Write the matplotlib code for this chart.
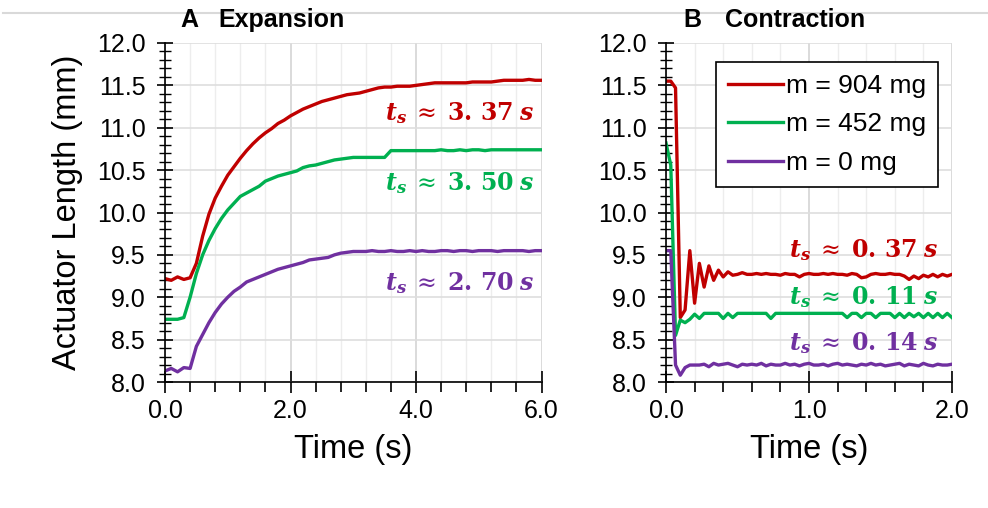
import numpy as np
import matplotlib
matplotlib.use("Agg")
import matplotlib.pyplot as plt
from matplotlib.ticker import MultipleLocator, FormatStrFormatter
from matplotlib.lines import Line2D

plt.rcParams['font.family'] = ['Liberation Sans', 'DejaVu Sans']
plt.rcParams['mathtext.fontset'] = 'dejavuserif'

# ---------------- data ----------------
labels = ["m = 904 mg", "m = 452 mg", "m = 0 mg"]
colors = ["#C00000", "#00B050", "#7030A0"]
ts_expansion = ["3.37", "3.50", "2.70"]
ts_contraction = ["0.37", "0.11", "0.14"]

# Expansion (time step 0.1 s, 0 .. 6 s)
t_exp = np.round(np.arange(0, 6.0001, 0.1), 2)
exp_904 = [9.22, 9.20, 9.24, 9.21, 9.23, 9.40, 9.72, 9.98, 10.17, 10.31,
           10.44, 10.54, 10.64, 10.73, 10.81, 10.88, 10.94, 10.99, 11.05, 11.09,
           11.14, 11.18, 11.22, 11.25, 11.28, 11.31, 11.33, 11.35, 11.37, 11.39,
           11.40, 11.41, 11.43, 11.45, 11.47, 11.48, 11.48, 11.49, 11.49, 11.49,
           11.50, 11.51, 11.52, 11.53, 11.53, 11.53, 11.53, 11.53, 11.53, 11.54,
           11.54, 11.54, 11.54, 11.55, 11.56, 11.56, 11.56, 11.56, 11.57, 11.56,
           11.56]
exp_452 = [8.74, 8.74, 8.74, 8.76, 9.00, 9.28, 9.50, 9.67, 9.81, 9.93,
           10.03, 10.11, 10.19, 10.23, 10.27, 10.31, 10.37, 10.40, 10.43, 10.45,
           10.47, 10.49, 10.53, 10.55, 10.56, 10.58, 10.60, 10.62, 10.63, 10.64,
           10.65, 10.65, 10.65, 10.65, 10.65, 10.65, 10.73, 10.73, 10.73, 10.73,
           10.73, 10.73, 10.73, 10.73, 10.74, 10.73, 10.73, 10.74, 10.73, 10.74,
           10.74, 10.73, 10.74, 10.74, 10.74, 10.74, 10.74, 10.74, 10.74, 10.74,
           10.74]
exp_0 = [8.13, 8.16, 8.12, 8.17, 8.16, 8.42, 8.56, 8.70, 8.82, 8.92,
         9.00, 9.07, 9.12, 9.18, 9.21, 9.24, 9.27, 9.30, 9.33, 9.35,
         9.37, 9.39, 9.41, 9.44, 9.45, 9.46, 9.47, 9.50, 9.52, 9.53,
         9.54, 9.54, 9.54, 9.55, 9.54, 9.54, 9.55, 9.54, 9.54, 9.55,
         9.54, 9.55, 9.54, 9.54, 9.55, 9.55, 9.54, 9.55, 9.55, 9.54,
         9.55, 9.55, 9.55, 9.54, 9.55, 9.55, 9.55, 9.55, 9.54, 9.55,
         9.55]

# Contraction (time step 1/30 s, 0 .. 2 s)
t_con = np.linspace(0, 2.0, 61)
con_904 = [11.55, 11.55, 11.47, 8.76, 8.85, 9.55, 8.93, 9.40, 9.12, 9.37,
           9.20, 9.32, 9.24, 9.30, 9.26, 9.27, 9.29, 9.27, 9.27, 9.28,
           9.27, 9.28, 9.27, 9.27, 9.26, 9.28, 9.27, 9.27, 9.24, 9.27,
           9.28, 9.27, 9.27, 9.28, 9.27, 9.28, 9.27, 9.27, 9.26, 9.28,
           9.27, 9.23, 9.24, 9.27, 9.28, 9.27, 9.27, 9.28, 9.27, 9.27,
           9.25, 9.21, 9.25, 9.22, 9.26, 9.24, 9.27, 9.24, 9.27, 9.25,
           9.27]
con_452 = [10.82, 10.56, 8.55, 8.73, 8.70, 8.74, 8.80, 8.75, 8.81, 8.81,
           8.81, 8.81, 8.75, 8.81, 8.76, 8.81, 8.81, 8.81, 8.81, 8.81,
           8.81, 8.81, 8.75, 8.81, 8.81, 8.81, 8.81, 8.81, 8.81, 8.81,
           8.81, 8.81, 8.81, 8.81, 8.81, 8.81, 8.81, 8.81, 8.76, 8.81,
           8.81, 8.76, 8.81, 8.81, 8.76, 8.81, 8.81, 8.81, 8.76, 8.81,
           8.76, 8.81, 8.77, 8.81, 8.76, 8.81, 8.76, 8.81, 8.76, 8.81,
           8.76]
con_0 = [9.55, 9.55, 8.20, 8.08, 8.17, 8.20, 8.20, 8.20, 8.21, 8.18,
         8.22, 8.20, 8.21, 8.22, 8.20, 8.18, 8.21, 8.20, 8.21, 8.20,
         8.22, 8.19, 8.21, 8.20, 8.20, 8.22, 8.20, 8.21, 8.19, 8.21,
         8.22, 8.20, 8.20, 8.21, 8.19, 8.21, 8.22, 8.20, 8.21, 8.20,
         8.19, 8.21, 8.20, 8.22, 8.20, 8.21, 8.19, 8.20, 8.21, 8.22,
         8.19, 8.21, 8.20, 8.19, 8.22, 8.20, 8.19, 8.21, 8.20, 8.20,
         8.21]

# ---------------- figure ----------------
W, H = 988, 508
fig = plt.figure(figsize=(W / 100, H / 100), dpi=100)

def fx(px):
    return px / W

def fy(py):
    return 1 - py / H

axA = fig.add_axes([fx(165), fy(382), fx(541.5) - fx(165), fy(43) - fy(382)])
axB = fig.add_axes([fx(666), fy(382), fx(952) - fx(666), fy(43) - fy(382)])


def style(ax, xmax, xmajor, xminor):
    ax.set_xlim(0, xmax)
    ax.set_ylim(8.0, 12.0)
    ax.xaxis.set_major_locator(MultipleLocator(xmajor))
    ax.xaxis.set_minor_locator(MultipleLocator(xminor))
    ax.yaxis.set_major_locator(MultipleLocator(0.5))
    ax.yaxis.set_minor_locator(MultipleLocator(0.1))
    ax.xaxis.set_major_formatter(FormatStrFormatter('%.1f'))
    ax.yaxis.set_major_formatter(FormatStrFormatter('%.1f'))
    for s in ['top', 'right']:
        ax.spines[s].set_visible(False)
    for s in ['left', 'bottom']:
        ax.spines[s].set_color('black')
        ax.spines[s].set_linewidth(1.2)
    ax.tick_params(axis='x', which='major', direction='inout', length=16, width=1.2,
                   labelsize=18, pad=4, color='black')
    ax.tick_params(axis='x', which='minor', direction='out', length=7, width=1.2, color='black')
    ax.tick_params(axis='y', which='major', direction='inout', length=12, width=1.2,
                   labelsize=18, pad=8, color='black')
    ax.tick_params(axis='y', which='minor', direction='inout', length=8, width=1.0, color='black')
    ax.grid(True, axis='x', which='major', color='#d4d4d4', linewidth=1.2)
    ax.grid(True, axis='x', which='minor', color='#ededed', linewidth=1.0)
    ax.grid(True, axis='y', which='major', color='#dedede', linewidth=1.2)
    ax.set_axisbelow(True)
    ax.set_xlabel('Time (s)', fontsize=23.5, labelpad=8)


style(axA, 6.0, 2.0, 0.4)
style(axB, 2.0, 1.0, 0.2)

for y, c in zip([exp_904, exp_452, exp_0], colors):
    axA.plot(t_exp, y, color=c, linewidth=2.4, solid_joinstyle='round')
handles = []
for y, c, lab in zip([con_904, con_452, con_0], colors, labels):
    h, = axB.plot(t_con, y, color=c, linewidth=2.4, label=lab, solid_joinstyle='round')
    handles.append(h)

axA.set_ylabel('Actuator Length (mm)', fontsize=23.5, labelpad=10)


def ts_text(ax, x, y, val, color):
    a, b = val.split('.')
    s = (r'$\mathbfit{t}_{\mathbfit{s}}\;\approx\;\mathbf{' + a + r'.\,' + b +
         r'}\;\mathbfit{s}$')
    ax.text(x, y, s, color=color, fontsize=17, ha='right', va='center')


for val, c, yy in zip(ts_expansion, colors, [11.17, 10.35, 9.17]):
    ts_text(axA, 5.88, yy, val, c)
for val, c, yy in zip(ts_contraction, colors, [9.56, 9.00, 8.46]):
    ts_text(axB, 1.90, yy, val, c)

leg = axB.legend(handles=handles, loc='upper left',
                 bbox_to_anchor=(fx(716), fy(62)), bbox_transform=fig.transFigure,
                 borderaxespad=0, fontsize=19, handlelength=2.1, handletextpad=0.1,
                 labelspacing=0.55, borderpad=0.45, fancybox=False, framealpha=1,
                 edgecolor='black')
leg.get_frame().set_linewidth(1.2)

# titles
fig.text(fx(180), fy(20), 'A', fontsize=18, fontweight='bold', va='center', ha='left')
fig.text(fx(218), fy(20), 'Expansion', fontsize=18, fontweight='bold', va='center', ha='left')
fig.text(fx(683), fy(20), 'B', fontsize=18, fontweight='bold', va='center', ha='left')
fig.text(fx(725), fy(20), 'Contraction', fontsize=18, fontweight='bold', va='center', ha='left')

# thin top rule
fig.add_artist(Line2D([fx(3), 1.0], [fy(13), fy(13)], color='#d9d9d9', linewidth=1.5,
                      transform=fig.transFigure))

fig.savefig('out.png', dpi=100)
